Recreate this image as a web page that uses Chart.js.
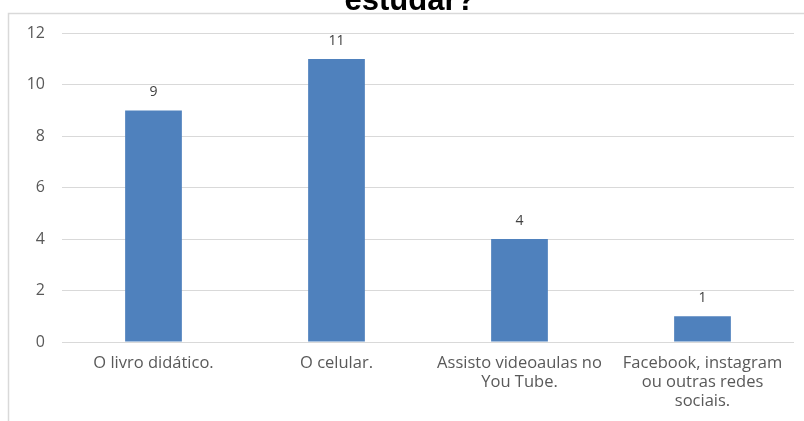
<!DOCTYPE html>
<html>
<head>
<meta charset="utf-8">
<script src="https://cdn.jsdelivr.net/npm/chart.js@4/dist/chart.umd.min.js"></script>
<style>
  html, body { margin: 0; padding: 0; background: #fff; }
  #wrap { position: relative; width: 804px; height: 421px; overflow: hidden; }
  #chart { position: absolute; left: 0; top: -20px; }
</style>
</head>
<body>
<div id="wrap"><canvas id="chart" width="804" height="441"></canvas></div>
<script>
const titleText = 'estudar?';
const categories = [
  'O livro didático.',
  'O celular.',
  ['Assisto videoaulas no', 'You Tube.'],
  ['Facebook, instagram', 'ou outras redes', 'sociais.']
];
const counts = [9, 11, 4, 1];
const yTicks = [0, 2, 4, 6, 8, 10, 12];

const gridColor = '#d9d9d9';
const textColor = '#595959';

// light frame round the plot, as in the spreadsheet export
const framePlugin = {
  id: 'frame',
  beforeDraw(chart) {
    const ctx = chart.ctx;
    ctx.save();
    ctx.strokeStyle = '#d9d9d9';
    ctx.lineWidth = 1.5;
    ctx.beginPath();
    ctx.moveTo(8.5, 470);
    ctx.lineTo(8.5, 33.5);
    ctx.lineTo(820, 33.5);
    ctx.stroke();
    ctx.restore();
  }
};

// value labels above each bar
const valueLabels = {
  id: 'valueLabels',
  afterDatasetsDraw(chart) {
    const ctx = chart.ctx;
    const meta = chart.getDatasetMeta(0);
    ctx.save();
    ctx.font = '14px "Open Sans"';
    ctx.fillStyle = '#404040';
    ctx.textAlign = 'center';
    ctx.textBaseline = 'middle';
    meta.data.forEach(function(bar, i) {
      ctx.fillText(String(counts[i]), bar.x, bar.y - 18);
    });
    ctx.restore();
  }
};

new Chart(document.getElementById('chart'), {
  type: 'bar',
  data: {
    labels: categories,
    datasets: [{
      data: counts,
      backgroundColor: '#4f81bd',
      barPercentage: 1,
      categoryPercentage: 0.31
    }]
  },
  options: {
    responsive: false,
    animation: false,
    layout: { padding: { top: 3, right: 10, left: 26, bottom: 0 } },
    plugins: {
      legend: { display: false },
      tooltip: { enabled: false },
      title: {
        display: true,
        text: titleText,
        color: '#000',
        font: { family: '"Liberation Sans", Arial', size: 31, weight: 'bold', lineHeight: 1.2 },
        padding: { top: 0, bottom: 13 }
      }
    },
    scales: {
      x: {
        grid: { display: false, drawTicks: false },
        border: { display: false },
        ticks: {
          color: textColor,
          padding: 12,
          maxRotation: 0,
          autoSkip: false,
          font: { family: '"Open Sans"', size: 16.5, lineHeight: 1.15 }
        },
        afterFit(scale) { scale.height = 79; }
      },
      y: {
        min: 0,
        max: 12,
        afterBuildTicks(scale) {
          scale.ticks = yTicks.map(function(v) { return { value: v }; });
        },
        grid: { color: gridColor, lineWidth: 1, drawTicks: false },
        border: { display: false },
        ticks: {
          color: textColor,
          padding: 17,
          font: { family: '"Open Sans"', size: 16 }
        },
        afterFit(scale) { scale.width = 36; }
      }
    }
  },
  plugins: [framePlugin, valueLabels]
});
</script>
</body>
</html>
